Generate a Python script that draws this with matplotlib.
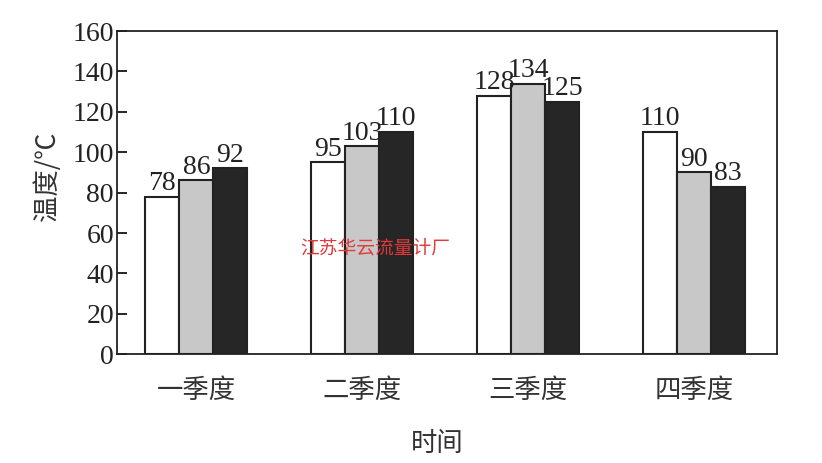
import numpy as np
import matplotlib.pyplot as plt

quarters = ['一季度', '二季度', '三季度', '四季度']
s1 = [78, 95, 128, 110]
s2 = [86, 103, 134, 90]
s3 = [92, 110, 125, 83]
yticks = [0, 20, 40, 60, 80, 100, 120, 140, 160]

cjk = ['Noto Sans CJK SC', 'DejaVu Sans']
serif = 'Liberation Serif'

fig = plt.figure(figsize=(8.22, 4.63), dpi=100)
ax = fig.add_axes([0.142, 0.235, 0.803, 0.698])

x = np.arange(len(quarters))
w = 0.205
colors = ['white', '#c8c8c8', '#262626']
for k, (vals, c) in enumerate(zip([s1, s2, s3], colors)):
    xs = x + (k - 1) * w
    ax.bar(xs, vals, width=w, color=c, edgecolor='#222222', linewidth=1.5)
    for xi, v in zip(xs, vals):
        ax.text(xi, v + 0.3, str(v), ha='center', va='bottom',
                fontsize=20, family=serif, color='#222222')

ax.set_xlim(-0.48, 3.5)
ax.set_ylim(0, 160)
ax.set_yticks(yticks)
ax.set_yticklabels([str(t) for t in yticks], fontsize=20, family=serif,
                   color='#222222')
ax.set_xticks(x)
ax.set_xticklabels(quarters, fontsize=19, family=cjk, color='#333333')
ax.tick_params(axis='y', direction='in', length=7, width=1.2, pad=2)
ax.tick_params(axis='x', length=0, pad=16)
for sp in ax.spines.values():
    sp.set_linewidth(1.3)
    sp.set_color('#222222')

ax.set_ylabel('温度/℃', fontsize=19, family=cjk, color='#333333')
ax.yaxis.set_label_coords(-0.085, 0.55)
ax.set_xlabel('时间', fontsize=19, family=cjk, color='#333333')
ax.xaxis.set_label_coords(0.485, -0.235)

fig.text(0.457, 0.465, '江苏华云流量计厂', fontsize=13.5, family=cjk,
         color='#e03a3a', ha='center', va='center')

fig.savefig('out.png', dpi=100)
